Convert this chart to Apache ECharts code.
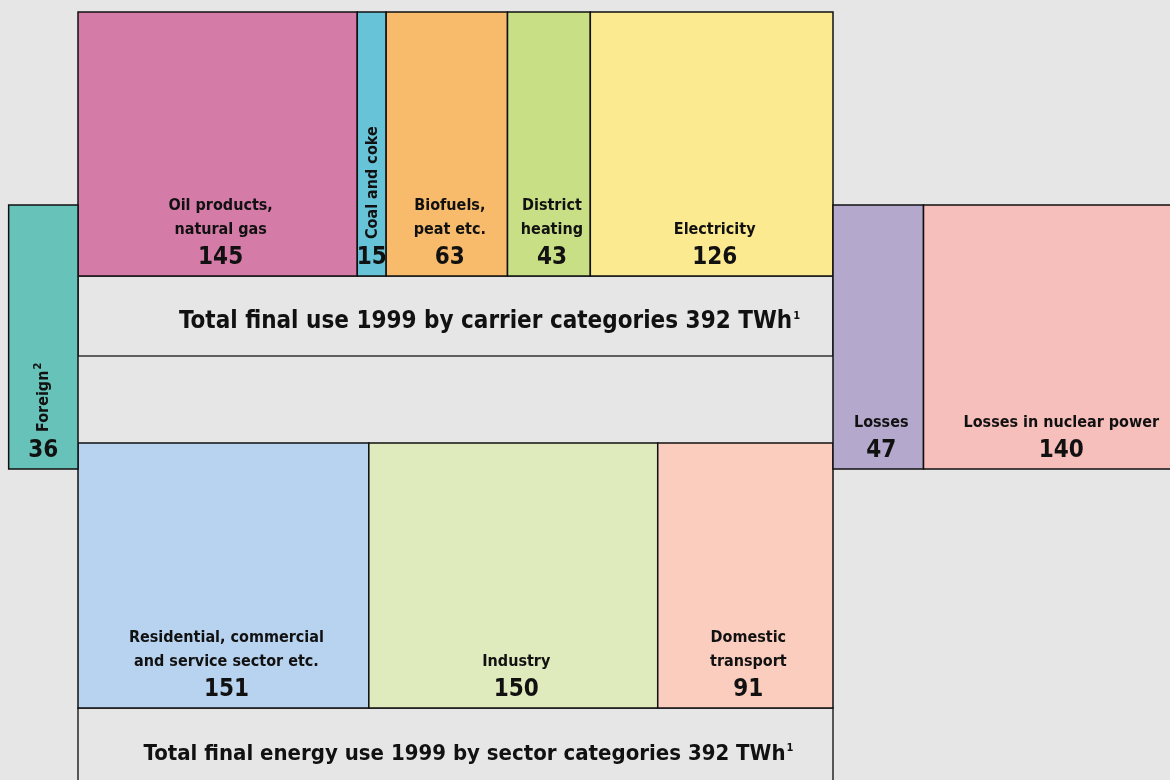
<!DOCTYPE html>
<html>
<head>
<meta charset="utf-8">
<script src="https://cdn.jsdelivr.net/npm/echarts@6/dist/echarts.min.js"></script>
<style>
  html, body { margin: 0; padding: 0; background: #e6e6e6; }
  #chart { width: 1170px; height: 780px; }
</style>
</head>
<body>
<div id="chart"></div>
<script>
// energy use 1999, TWh
const carrierNames = ['Oil products,\nnatural gas', 'Coal and coke', 'Biofuels,\npeat etc.', 'District\nheating', 'Electricity'];
const carrierValues = [145, 15, 63, 43, 126];
const sectorNames = ['Residential, commercial\nand service sector etc.', 'Industry', 'Domestic\ntransport'];
const sectorValues = [151, 150, 91];
const foreignName = 'Foreign';
const foreignValue = 36;
const lossNames = ['Losses', 'Losses in nuclear power'];
const lossValues = [47, 140];
const totalUse = 392;

// styles
const carrierColors = ['#d57ba8', '#67c3d8', '#f7bb6b', '#c9df85', '#fcea90'];
const sectorColors = ['#b8d3ef', '#dfeabd', '#fbcdbf'];
const foreignColor = '#67c3b9';
const lossColors = ['#b4a8cc', '#f7bfbb'];

// vertical layout (px on the y axis)
const band = {
  top: [12, 276],
  side: [205, 469],
  bottom: [443, 708]
};

const FONT = '"DejaVu Sans Condensed", "Liberation Sans Narrow", sans-serif';

function stack(values, start, names, colors, rows, vertical) {
  let x = start;
  return values.map((v, i) => {
    const item = { value: [x, x + v, rows[0], rows[1]], name: names[i], num: v, color: colors[i], vertical: vertical && vertical[i] };
    x += v;
    return item;
  });
}

const boxes = []
  .concat(stack(carrierValues, 0, carrierNames, carrierColors, band.top, [false, true, false, false, false]))
  .concat(stack(sectorValues, 0, sectorNames, sectorColors, band.bottom))
  .concat(stack([foreignValue], -foreignValue, [foreignName], [foreignColor], band.side, [true]))
  .concat(stack(lossValues, totalUse, lossNames, lossColors, band.side));

const titles = [
  { value: [0, totalUse, 276, 356], dx: 34, size: 24, text: 'Total final use 1999 by carrier categories 392 TWh{sup|1}' },
  { value: [0, totalUse, 708, 800], dx: 13, size: 22, text: 'Total final energy use 1999 by sector categories 392 TWh{sup|1}' }
];

const chart = echarts.init(document.getElementById('chart'));

function renderBox(params, api) {
  const d = boxes[params.dataIndex];
  const p0 = api.coord([api.value(0), api.value(2)]);
  const p1 = api.coord([api.value(1), api.value(3)]);
  const cx = (p0[0] + p1[0]) / 2;
  const bottom = p1[1];
  const children = [{
    type: 'rect',
    shape: { x: p0[0], y: p0[1], width: p1[0] - p0[0], height: p1[1] - p0[1] },
    style: { fill: d.color, stroke: '#111', lineWidth: 1.5 }
  }, {
    type: 'text',
    x: cx + (d.vertical ? 0 : 3), y: bottom - 18,
    style: { text: String(d.num), font: 'bold 24px ' + FONT, fill: '#111', align: 'center', verticalAlign: 'middle' }
  }];
  if (d.vertical) {
    const isForeign = d.name === foreignName;
    children.push({
      type: 'text',
      x: cx + 1, y: bottom - 37,
      rotation: Math.PI / 2,
      style: {
        text: isForeign ? d.name + '{sup|2}' : d.name,
        font: 'bold 16px ' + FONT, fill: '#111', align: 'left', verticalAlign: 'middle',
        rich: { sup: { font: 'bold 11px ' + FONT, fill: '#111', padding: [0, 0, 12, 1] } }
      }
    });
  } else {
    children.push({
      type: 'text',
      x: cx + 3, y: bottom - 34,
      style: { text: d.name, font: 'bold 16px ' + FONT, fill: '#111', align: 'center', verticalAlign: 'bottom', lineHeight: 24 }
    });
  }
  return { type: 'group', children: children };
}

function renderTitle(params, api) {
  const d = titles[params.dataIndex];
  const p0 = api.coord([api.value(0), api.value(2)]);
  const p1 = api.coord([api.value(1), api.value(3)]);
  return {
    type: 'group',
    children: [{
      type: 'rect',
      shape: { x: p0[0], y: p0[1], width: p1[0] - p0[0], height: p1[1] - p0[1] },
      style: { fill: '#e6e6e6', stroke: '#333', lineWidth: 1.6 }
    }, {
      type: 'text',
      x: (p0[0] + p1[0]) / 2 + d.dx, y: p0[1] + 46,
      style: {
        text: d.text, font: 'bold ' + d.size + 'px ' + FONT, fill: '#111', align: 'center', verticalAlign: 'middle',
        rich: { sup: { font: 'bold 11px ' + FONT, fill: '#111', padding: [0, 0, 12, 1] } }
      }
    }]
  };
}

chart.setOption({
  backgroundColor: '#e6e6e6',
  animation: false,
  grid: { left: 78, right: 337, top: 0, bottom: 0 },
  xAxis: { type: 'value', min: 0, max: totalUse, show: false },
  yAxis: { type: 'value', min: 0, max: 780, inverse: true, show: false },
  series: [
    { type: 'custom', clip: false, renderItem: renderTitle, data: titles.map(t => t.value) },
    { type: 'custom', clip: false, renderItem: renderBox, data: boxes.map(b => b.value) }
  ]
});
</script>
</body>
</html>
